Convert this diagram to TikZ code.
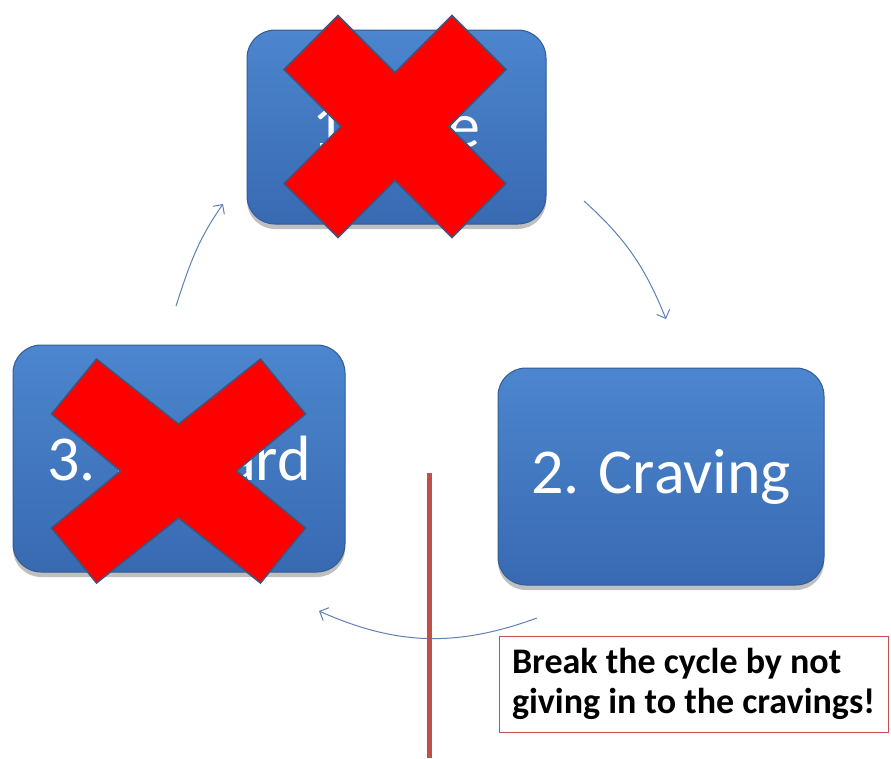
\documentclass[tikz,border=0pt]{standalone}
\usepackage{fontspec}
\setmainfont{Carlito}
\usetikzlibrary{arrows.meta,shadows}
\definecolor{boxtop}{RGB}{76,134,206}
\definecolor{boxbot}{RGB}{56,106,178}
\definecolor{boxline}{RGB}{50,92,150}
\definecolor{xred}{RGB}{255,0,0}
\definecolor{xline}{RGB}{64,84,124}
\definecolor{arrowc}{RGB}{95,128,178}
\definecolor{barred}{RGB}{190,80,72}
\definecolor{calloutline}{RGB}{192,80,77}
\tikzset{
  stage/.style={rectangle, rounded corners=28pt, draw=boxline, line width=1pt,
    top color=boxtop, bottom color=boxbot, text=white,
    font=\fontsize{64}{77}\selectfont, inner sep=0pt,
    drop shadow={shadow xshift=0pt, shadow yshift=-5pt, opacity=0.25, fill=black}},
  cross/.style={fill=xred, draw=xline, line width=1.5pt, line join=miter},
  cyc/.style={draw=arrowc, line width=1pt, -{Straight Barb[length=7pt,width=14pt]}},
  breakbar/.style={draw=barred, line width=5pt},
  callout/.style={rectangle, draw=calloutline, line width=1pt, fill=white,
    minimum width=389pt, minimum height=96pt, inner sep=0pt,
    align=left, font=\bfseries\fontsize{36}{40}\selectfont, text=black}
}
\begin{document}
\begin{tikzpicture}[x=1pt,y=1pt]
\useasboundingbox (0,0) rectangle (891,-758);
% stages
\node[stage, minimum width=299pt, minimum height=194pt] (cue) at (396.5,-127) {1. Cue};
\node[stage, minimum width=326pt, minimum height=217pt] (craving) at (661,-476.5) {2. Craving};
\node[stage, minimum width=332pt, minimum height=227pt] (reward) at (179,-458.5) {3. Reward};
% crosses
\draw[cross, shift={(395,-126.5)}] (57,111) -- (0,54) -- (-57,111) -- (-111,57) -- (-54,0)
  -- (-111,-57) -- (-57,-111) -- (0,-54) -- (57,-111) -- (111,-57) -- (54,0) -- (111,57) -- cycle;
\draw[cross, shift={(178.5,-471)}] (82,112) -- (0,47) -- (-82,112) -- (-127,57) -- (-58,0)
  -- (-127,-57) -- (-82,-112) -- (0,-47) -- (82,-112) -- (127,-57) -- (58,0) -- (127,57) -- cycle;
% cycle arrows
\coordinate (a31s) at (176,-306);
\coordinate (a31e) at (223,-204);
\coordinate (a12s) at (584,-201);
\coordinate (a12e) at (666,-319);
\coordinate (a23s) at (537,-618);
\coordinate (a23e) at (319,-611);
\draw[cyc] (a31s) to[out=72,in=235] (a31e);
\draw[cyc] (a12s) to[out=-42,in=112] (a12e);
\draw[cyc] (a23s) to[out=200,in=-24] (a23e);
% break bar
\coordinate (bartop) at (429,-473);
\coordinate (barbot) at (429,-758);
\draw[breakbar] (bartop) -- (barbot);
% callout
\node[callout] (note) at (693.5,-684) {Break the cycle by not\\giving in to the cravings!};
\end{tikzpicture}
\end{document}
